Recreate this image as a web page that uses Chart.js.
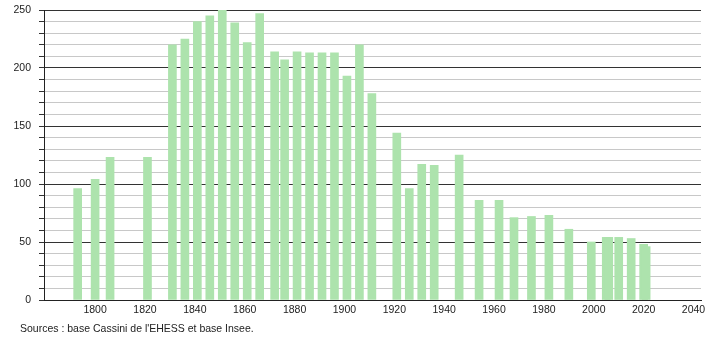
<!DOCTYPE html>
<html>
<head>
<meta charset="utf-8">
<script src="https://cdn.jsdelivr.net/npm/chart.js@4"></script>
<style>
  body { margin: 0; background: #fff; }
  #wrap { position: relative; width: 710px; height: 340px; }
  #source {
    position: absolute; left: 20px; top: 322px;
    font-family: "Liberation Sans", Arial, sans-serif; font-size: 10.5px; color: #222;
    white-space: nowrap;
  }
</style>
</head>
<body>
<div id="wrap">
  <canvas id="popChart" width="710" height="340"></canvas>
  <div id="source">Sources : base Cassini de l'EHESS et base Insee.</div>
</div>
<script>
// Census years and population
const years = [1793, 1800, 1806, 1821, 1831, 1836, 1841, 1846, 1851, 1856, 1861, 1866,
  1872, 1876, 1881, 1886, 1891, 1896, 1901, 1906, 1911, 1921, 1926, 1931, 1936, 1946,
  1954, 1962, 1968, 1975, 1982, 1990, 1999, 2005, 2006, 2010, 2015, 2020, 2021];
const population = [96, 104, 123, 123, 220, 225, 240, 245, 250, 239, 222, 247,
  214, 207, 214, 213, 213, 213, 193, 220, 178, 144, 96, 117, 116, 125,
  86, 86, 71, 72, 73, 61, 50, 54, 54, 54, 53, 48, 46];
const xTicks = [1800, 1820, 1840, 1860, 1880, 1900, 1920, 1940, 1960, 1980, 2000, 2020, 2040];
const yTicks = [0, 50, 100, 150, 200, 250];

const FONT = { family: '"Liberation Sans", Arial, sans-serif', size: 10.5 };

const ctx = document.getElementById('popChart').getContext('2d');
new Chart(ctx, {
  type: 'bar',
  data: {
    datasets: [{
      data: years.map((yr, i) => ({ x: yr, y: population[i] })),
      backgroundColor: '#ade3ad',
      borderWidth: 0,
      barThickness: 8
    }]
  },
  options: {
    responsive: false,
    animation: false,
    events: [],
    layout: { padding: { left: 0, right: 9, top: 10, bottom: 0 } },
    plugins: { legend: { display: false }, tooltip: { enabled: false } },
    scales: {
      x: {
        type: 'linear',
        offset: false,
        min: 1779.5,
        max: 2043,
        afterBuildTicks: function (axis) {
          axis.ticks = xTicks.map(v => ({ value: v }));
        },
        afterFit: function (axis) { axis.height = 40; },
        grid: { display: false, drawTicks: false },
        border: { display: true, color: '#222', width: 1 },
        ticks: {
          color: '#222', font: FONT, padding: 4, autoSkip: false, maxRotation: 0,
          callback: function (v) { return String(v); }
        }
      },
      y: {
        min: 0,
        max: 250,
        afterFit: function (axis) {
          axis.width = 44;
          axis.paddingTop = 0;
          axis.paddingBottom = 0;
        },
        grid: {
          color: function (c) { return c.tick.value % 50 === 0 ? '#333' : '#c8c8c8'; },
          tickColor: '#333',
          tickLength: 5,
          lineWidth: 1
        },
        border: { display: true, color: '#222', width: 1 },
        ticks: {
          stepSize: 10,
          autoSkip: false,
          padding: 8,
          color: '#222',
          font: FONT,
          callback: function (v) { return yTicks.includes(v) ? String(v) : ''; }
        }
      }
    }
  }
});
</script>
</body>
</html>
